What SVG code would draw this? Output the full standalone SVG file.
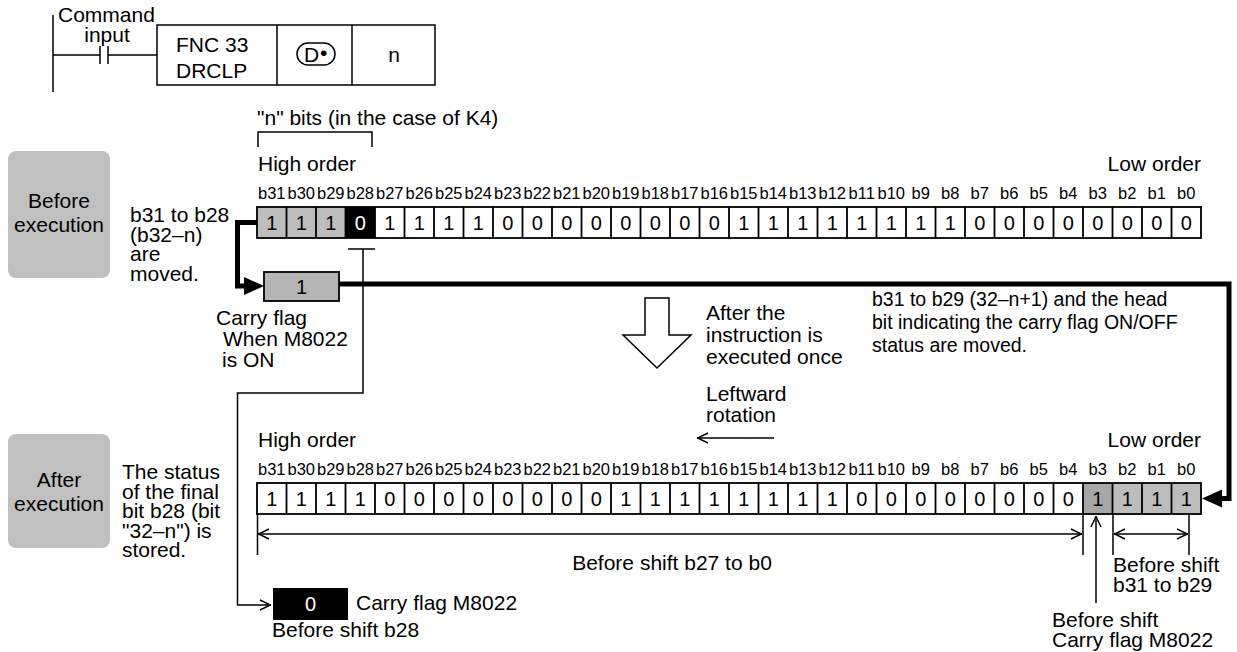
<svg xmlns="http://www.w3.org/2000/svg" width="1237" height="652" viewBox="0 0 1237 652">
<defs>
<style>
text{font-family:"Liberation Sans",Arial,Helvetica,sans-serif;fill:#000}
.t{font-size:21px}
.s{font-size:19.5px}
.c{font-size:21px;text-anchor:middle}
.lb{font-size:16.5px;text-anchor:middle}
.dg{font-size:20px;text-anchor:middle}
.ln{stroke:#000;stroke-width:1.5;fill:none}
.cell{stroke:#000;stroke-width:1.8;fill:none}
.thk{stroke:#000;stroke-width:5;fill:none}
.gbox{fill:#c0c0c0}
</style>
<marker id="oa" viewBox="0 0 12 12" refX="12" refY="6" markerWidth="12" markerHeight="12" markerUnits="userSpaceOnUse" orient="auto-start-reverse">
<path d="M1,1 L11.5,6 L1,11" fill="none" stroke="#000" stroke-width="1.5"/>
</marker>
</defs>
<rect width="1237" height="652" fill="#fff"/>

<g id="ladder">
<path class="ln" d="M53,15 V92 M53,55 H100 M108,55 H157 M100,46 V64 M108,46 V64"/>
<text class="t" x="58" y="22">Command</text>
<text class="c" x="107" y="42">input</text>
<rect x="157" y="25" width="278" height="60" class="ln"/>
<path class="ln" d="M277,25 V85 M352,25 V85"/>
<text class="t" x="176" y="52">FNC 33</text>
<text class="t" x="176" y="78">DRCLP</text>
<rect x="297" y="43" width="38" height="22" rx="11" class="ln"/>
<text class="t" x="304" y="62" font-size="19">D</text>
<text class="t" x="320" y="60" font-size="13">•</text>
<text class="c" x="394" y="62">n</text>
</g>

<g id="before-label">
<rect class="gbox" x="8" y="151" width="102" height="127" rx="8"/>
<text class="c" x="59" y="208">Before</text>
<text class="c" x="59" y="232">execution</text>
<text class="t" x="130" y="222">b31 to b28</text>
<text class="t" x="130" y="241.5">(b32–n)</text>
<text class="t" x="130" y="261">are</text>
<text class="t" x="130" y="280.5">moved.</text>
</g>

<g id="after-label">
<rect class="gbox" x="8" y="434" width="102" height="114" rx="8"/>
<text class="c" x="59" y="487">After</text>
<text class="c" x="59" y="511">execution</text>
<text class="t" x="122" y="479">The status</text>
<text class="t" x="122" y="498.5">of the final</text>
<text class="t" x="122" y="518">bit b28 (bit</text>
<text class="t" x="122" y="537.5">"32–n") is</text>
<text class="t" x="122" y="557">stored.</text>
</g>

<g id="row1">
<text class="t" x="257" y="125">"n" bits (in the case of K4)</text>
<path class="ln" d="M258,147 V132 H372 V147"/>
<text class="t" x="258" y="171">High order</text>
<text class="t" x="1201" y="171" text-anchor="end">Low order</text>
<text class="lb" y="199"><tspan x="271.75">b31</tspan><tspan x="301.25">b30</tspan><tspan x="330.75">b29</tspan><tspan x="360.25">b28</tspan><tspan x="389.75">b27</tspan><tspan x="419.25">b26</tspan><tspan x="448.75">b25</tspan><tspan x="478.25">b24</tspan><tspan x="507.75">b23</tspan><tspan x="537.25">b22</tspan><tspan x="566.75">b21</tspan><tspan x="596.25">b20</tspan><tspan x="625.75">b19</tspan><tspan x="655.25">b18</tspan><tspan x="684.75">b17</tspan><tspan x="714.25">b16</tspan><tspan x="743.75">b15</tspan><tspan x="773.25">b14</tspan><tspan x="802.75">b13</tspan><tspan x="832.25">b12</tspan><tspan x="861.75">b11</tspan><tspan x="891.25">b10</tspan><tspan x="920.75">b9</tspan><tspan x="950.25">b8</tspan><tspan x="979.75">b7</tspan><tspan x="1009.25">b6</tspan><tspan x="1038.75">b5</tspan><tspan x="1068.25">b4</tspan><tspan x="1097.75">b3</tspan><tspan x="1127.25">b2</tspan><tspan x="1156.75">b1</tspan><tspan x="1186.25">b0</tspan></text>
<rect x="257" y="207" width="88.5" height="31" fill="#bdbdbd"/>
<rect x="345.5" y="207" width="29.5" height="31" fill="#000"/>
<rect x="257" y="207" width="944" height="31" class="cell"/>
<path class="cell" d="M286.5,207V238M316,207V238M345.5,207V238M375,207V238M404.5,207V238M434,207V238M463.5,207V238M493,207V238M522.5,207V238M552,207V238M581.5,207V238M611,207V238M640.5,207V238M670,207V238M699.5,207V238M729,207V238M758.5,207V238M788,207V238M817.5,207V238M847,207V238M876.5,207V238M906,207V238M935.5,207V238M965,207V238M994.5,207V238M1024,207V238M1053.5,207V238M1083,207V238M1112.5,207V238M1142,207V238M1171.5,207V238"/>
<text class="dg" y="230" x="271.75 301.25 330.75">111</text>
<text class="dg" y="230" x="360.25" style="fill:#fff">0</text>
<text class="dg" y="230" x="389.75 419.25 448.75 478.25 507.75 537.25 566.75 596.25 625.75 655.25 684.75 714.25 743.75 773.25 802.75 832.25 861.75 891.25 920.75 950.25 979.75 1009.25 1038.75 1068.25 1097.75 1127.25 1156.75 1186.25">1111000000001111111100000000</text>
</g>

<g id="carry-top">
<rect x="264" y="272" width="75" height="29" fill="#b4b4b4" stroke="#000" stroke-width="1.8"/>
<text class="dg" x="301.5" y="294">1</text>
<text class="t" x="216" y="325">Carry flag</text>
<text class="t" x="223" y="346">When M8022</text>
<text class="t" x="222" y="367">is ON</text>
</g>

<g id="middle">
<polygon points="645,298 669,298 669,335 691,335 657,368 623,335 645,335" fill="#fff" stroke="#000" stroke-width="1.5"/>
<text class="t" x="706" y="320">After the</text>
<text class="t" x="706" y="342">instruction is</text>
<text class="t" x="706" y="364">executed once</text>
<text class="s" x="872" y="306">b31 to b29 (32–n+1) and the head</text>
<text class="s" x="872" y="329">bit indicating the carry flag ON/OFF</text>
<text class="s" x="872" y="352">status are moved.</text>
<text class="t" x="706" y="401">Leftward</text>
<text class="t" x="706" y="422">rotation</text>
<path class="ln" d="M774,438 H697" marker-end="url(#oa)"/>
</g>

<g id="row2">
<text class="t" x="258" y="447">High order</text>
<text class="t" x="1201" y="447" text-anchor="end">Low order</text>
<text class="lb" y="475"><tspan x="271.75">b31</tspan><tspan x="301.25">b30</tspan><tspan x="330.75">b29</tspan><tspan x="360.25">b28</tspan><tspan x="389.75">b27</tspan><tspan x="419.25">b26</tspan><tspan x="448.75">b25</tspan><tspan x="478.25">b24</tspan><tspan x="507.75">b23</tspan><tspan x="537.25">b22</tspan><tspan x="566.75">b21</tspan><tspan x="596.25">b20</tspan><tspan x="625.75">b19</tspan><tspan x="655.25">b18</tspan><tspan x="684.75">b17</tspan><tspan x="714.25">b16</tspan><tspan x="743.75">b15</tspan><tspan x="773.25">b14</tspan><tspan x="802.75">b13</tspan><tspan x="832.25">b12</tspan><tspan x="861.75">b11</tspan><tspan x="891.25">b10</tspan><tspan x="920.75">b9</tspan><tspan x="950.25">b8</tspan><tspan x="979.75">b7</tspan><tspan x="1009.25">b6</tspan><tspan x="1038.75">b5</tspan><tspan x="1068.25">b4</tspan><tspan x="1097.75">b3</tspan><tspan x="1127.25">b2</tspan><tspan x="1156.75">b1</tspan><tspan x="1186.25">b0</tspan></text>
<rect x="1083" y="483" width="29.5" height="31" fill="#a6a6a6"/>
<rect x="1112.5" y="483" width="88.5" height="31" fill="#bdbdbd"/>
<rect x="257" y="483" width="944" height="31" class="cell"/>
<path class="cell" d="M286.5,483V514M316,483V514M345.5,483V514M375,483V514M404.5,483V514M434,483V514M463.5,483V514M493,483V514M522.5,483V514M552,483V514M581.5,483V514M611,483V514M640.5,483V514M670,483V514M699.5,483V514M729,483V514M758.5,483V514M788,483V514M817.5,483V514M847,483V514M876.5,483V514M906,483V514M935.5,483V514M965,483V514M994.5,483V514M1024,483V514M1053.5,483V514M1083,483V514M1112.5,483V514M1142,483V514M1171.5,483V514"/>
<text class="dg" y="506" x="271.75 301.25 330.75 360.25 389.75 419.25 448.75 478.25 507.75 537.25 566.75 596.25 625.75 655.25 684.75 714.25 743.75 773.25 802.75 832.25 861.75 891.25 920.75 950.25 979.75 1009.25 1038.75 1068.25 1097.75 1127.25 1156.75 1186.25">11110000000011111111000000001111</text>
</g>

<g id="carry-bottom">
<rect x="273" y="588" width="75" height="32" fill="#000"/>
<text class="dg" x="310.5" y="611" style="fill:#fff">0</text>
<text class="t" x="356" y="610">Carry flag M8022</text>
<text class="t" x="272" y="637">Before shift b28</text>
</g>

<g id="dimensions">
<path class="ln" d="M257.5,514 V555 M1083,514 V555 M1113,514 V555 M1189,514 V555"/>
<path class="ln" d="M258,534 H1082" marker-start="url(#oa)" marker-end="url(#oa)"/>
<path class="ln" d="M1114,534 H1188" marker-start="url(#oa)" marker-end="url(#oa)"/>
<path class="ln" d="M1096,603 V516" marker-end="url(#oa)"/>
<text class="c" x="672" y="570">Before shift b27 to b0</text>
<text class="t" x="1113" y="572">Before shift</text>
<text class="t" x="1113" y="592">b31 to b29</text>
<text class="t" x="1052" y="627">Before shift</text>
<text class="t" x="1052" y="647">Carry flag M8022</text>
</g>

<g id="connectors">
<path class="thk" d="M257,222.5 H237.5 V286 H247"/>
<polygon points="244,277 264,286 244,295" fill="#000"/>
<path class="thk" d="M339,284 H1229 V498.5 H1220"/>
<polygon points="1222,489.5 1202,498.5 1222,507.5" fill="#000"/>
<path class="ln" d="M348,249 H375 M363,249 V393 H237.5 V605 H271" marker-end="url(#oa)"/>
</g>
</svg>
